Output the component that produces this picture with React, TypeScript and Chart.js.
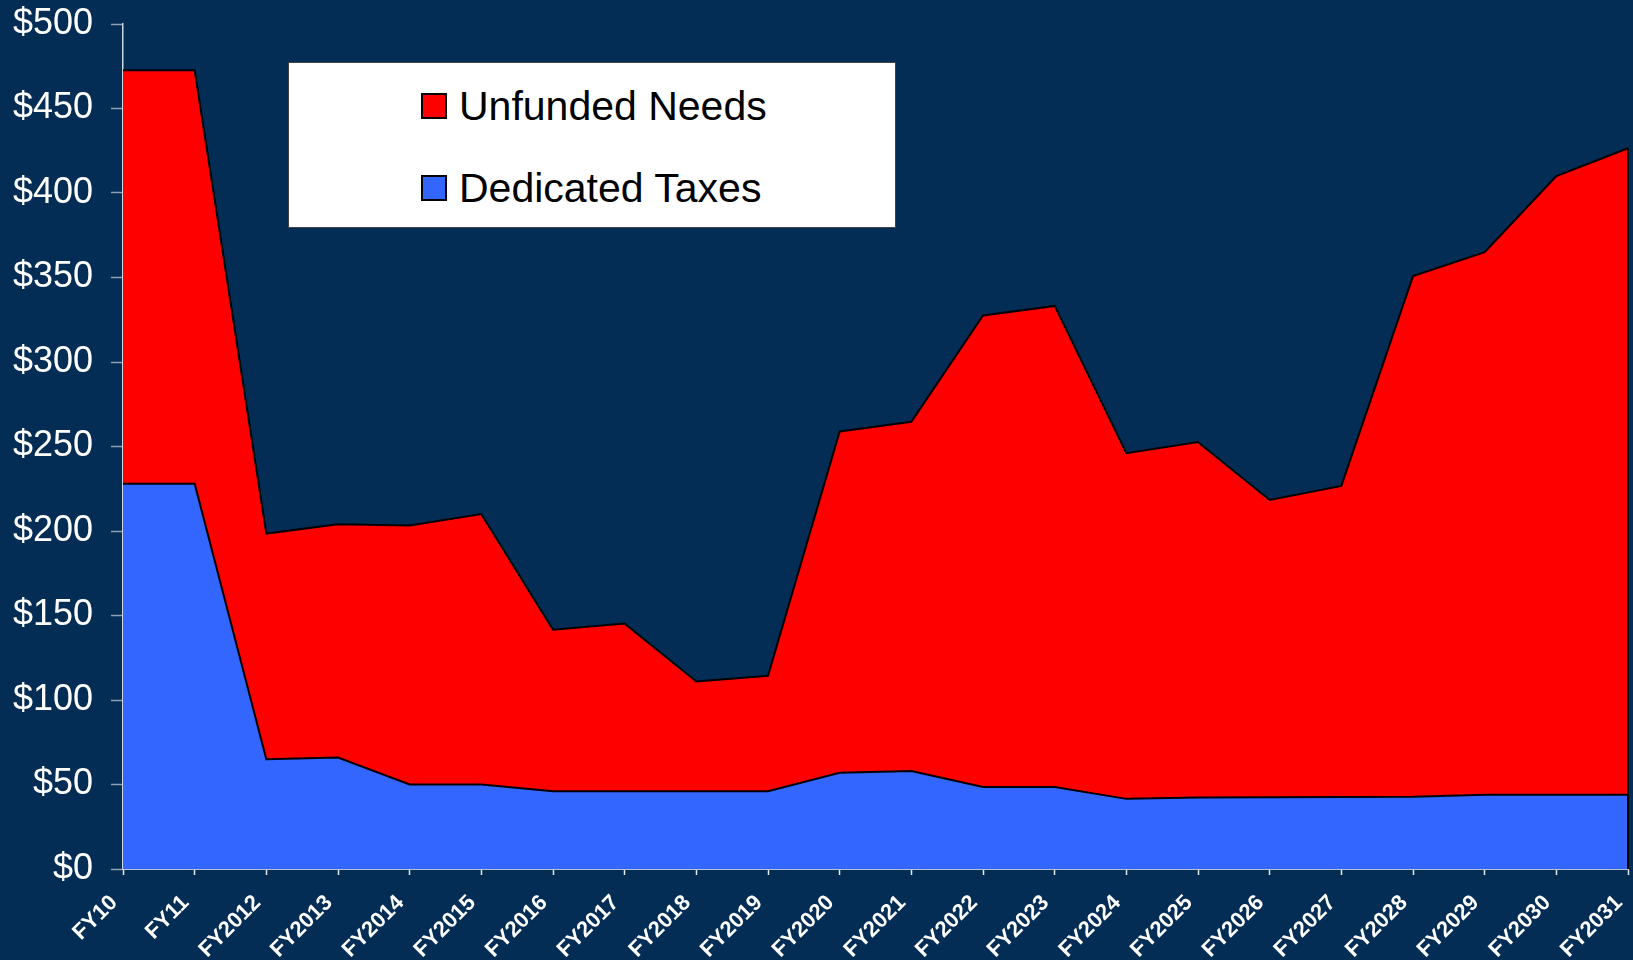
import React, { useEffect, useRef } from "react";
import { Chart, registerables } from "chart.js";

Chart.register(...registerables);

const categories = [
  "FY10", "FY11", "FY2012", "FY2013", "FY2014", "FY2015", "FY2016", "FY2017",
  "FY2018", "FY2019", "FY2020", "FY2021", "FY2022", "FY2023", "FY2024", "FY2025",
  "FY2026", "FY2027", "FY2028", "FY2029", "FY2030", "FY2031",
];

const dedicatedTaxes = [
  228, 228, 65, 66, 50, 50, 46, 46, 46, 46, 57, 58, 48.5, 48.5, 41.5, 42.3,
  42.4, 42.6, 42.8, 44, 44, 44,
];

const unfundedNeeds = [
  244.6, 244.6, 133.5, 138, 153.2, 160, 95.6, 99.2, 65, 68.3, 201.9, 206.6,
  279, 284.7, 204.5, 210.3, 176, 184.1, 308, 321, 366, 382.5,
];

const legendItems = [
  { label: "Unfunded Needs", color: "#FF0000" },
  { label: "Dedicated Taxes", color: "#3366FF" },
];

const yMin = 0;
const yMax = 500;
const yStep = 50;

const BG = "#032D55";
const FONT = "'Liberation Sans', Arial, Helvetica, sans-serif";

const closeEdgePlugin = {
  id: "closeEdge",
  afterDatasetsDraw(chart: any) {
    const meta = chart.getDatasetMeta(1);
    const pts = meta.data;
    if (!pts || !pts.length) return;
    const last = pts[pts.length - 1];
    const yScale = chart.scales.y;
    const ctx = chart.ctx;
    ctx.save();
    ctx.strokeStyle = "#000000";
    ctx.lineWidth = 2;
    ctx.beginPath();
    ctx.moveTo(last.x, last.y);
    ctx.lineTo(last.x, yScale.getPixelForValue(0));
    ctx.stroke();
    ctx.restore();
  },
};

export default function App() {
  const canvasRef = useRef<HTMLCanvasElement | null>(null);

  useEffect(() => {
    document.body.style.margin = "0";
    const canvas = canvasRef.current;
    if (!canvas) return;
    const chart = new Chart(canvas, {
      type: "line",
      data: {
        labels: categories,
        datasets: [
          {
            label: "Dedicated Taxes",
            data: dedicatedTaxes,
            backgroundColor: "#3366FF",
            borderColor: "#000000",
            borderWidth: 2,
            fill: "origin",
            pointRadius: 0,
            tension: 0,
          },
          {
            label: "Unfunded Needs",
            data: unfundedNeeds,
            backgroundColor: "#FF0000",
            borderColor: "#000000",
            borderWidth: 2,
            fill: "-1",
            pointRadius: 0,
            tension: 0,
          },
        ],
      },
      options: {
        animation: false,
        responsive: false,
        maintainAspectRatio: false,
        layout: { padding: { top: 24, right: 5, left: 0, bottom: 0 } },
        plugins: {
          legend: { display: false },
          tooltip: { enabled: false },
        },
        scales: {
          x: {
            type: "category",
            offset: false,
            afterFit: (axis: any) => {
              axis.height = 91;
              axis.paddingLeft = 0;
              axis.paddingRight = 0;
              axis.paddingTop = 0;
              axis.paddingBottom = 0;
            },
            grid: {
              display: true,
              drawOnChartArea: false,
              drawTicks: true,
              tickLength: 6,
              tickColor: "#E8E8E8",
              tickWidth: 1.5,
            },
            border: { display: true, color: "#B8C0CC", width: 2 },
            ticks: {
              color: "#FFFFFF",
              font: { family: FONT, size: 22, weight: "bold" },
              minRotation: 45,
              maxRotation: 45,
              autoSkip: false,
              padding: 15,
              labelOffset: -9,
            },
          },
          y: {
            stacked: true,
            min: yMin,
            max: yMax,
            afterFit: (axis: any) => {
              axis.width = 123;
              axis.paddingLeft = 0;
              axis.paddingRight = 0;
              axis.paddingTop = 0;
              axis.paddingBottom = 0;
            },
            grid: {
              display: true,
              drawOnChartArea: false,
              drawTicks: true,
              tickLength: 12,
              tickColor: "#8FA0B4",
              tickWidth: 1.5,
            },
            border: { display: true, color: "#D0D6DE", width: 1.5 },
            ticks: {
              stepSize: yStep,
              color: "#FFFFFF",
              font: { family: FONT, size: 36 },
              padding: 18,
              callback: (v: any) => "$" + v,
            },
          },
        },
      },
      plugins: [closeEdgePlugin],
    });
    return () => chart.destroy();
  }, []);

  return (
    <div
      style={{
        position: "fixed",
        left: 0,
        top: 0,
        width: 1633,
        height: 960,
        background: BG,
        overflow: "hidden",
      }}
    >
      <canvas ref={canvasRef} width={1633} height={960} style={{ display: "block" }} />
      <div
        style={{
          position: "absolute",
          left: 288,
          top: 62,
          width: 606,
          height: 164,
          background: "#FFFFFF",
          border: "1px solid #444",
          fontFamily: FONT,
        }}
      >
        {legendItems.map((item, i) => (
          <div
            key={item.label}
            style={{
              position: "absolute",
              left: 132,
              top: 22 + i * 82,
              height: 42,
              display: "flex",
              alignItems: "center",
              whiteSpace: "nowrap",
            }}
          >
            <div
              style={{
                width: 22,
                height: 22,
                background: item.color,
                border: "2px solid #000",
                marginRight: 12,
              }}
            />
            <span style={{ fontSize: 41, color: "#000", lineHeight: "42px" }}>{item.label}</span>
          </div>
        ))}
      </div>
    </div>
  );
}
